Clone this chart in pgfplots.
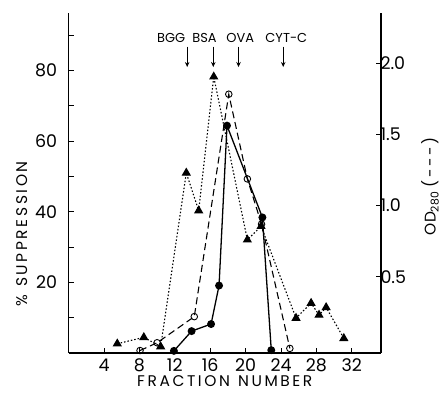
\documentclass[border=0pt]{standalone}
\usepackage{fontspec}
\setmainfont{Poppins}
\usepackage{pgfplots}
\pgfplotsset{compat=1.18}
\usetikzlibrary{arrows.meta}
\begin{document}
\begin{tikzpicture}
\useasboundingbox (-68.6bp,-40bp) rectangle (375.4bp,353bp);
\pgfplotsset{
  common/.style={
    scale only axis, width=312.4bp, height=340bp,
    xmin=0, xmax=35.3,
    tick align=inside, major tick length=5bp,
    tick style={black, line width=0.8pt},
    axis line style={line width=1.1pt},
    /pgf/number format/assume math mode=true,
    tick label style={font=\fontsize{17.5}{17.5}\selectfont},
    label style={font=\fontsize{15.5}{15.5}\selectfont},
  }
}
\begin{axis}[common,
  axis x line*=bottom, axis y line*=left,
  ymin=0, ymax=96.3,
  xtick={4,8,...,32},
  ytick={10,20,...,90},
  yticklabels={,20,,40,,60,,80,},
  xticklabel style={yshift=-2bp},
  yticklabel style={xshift=-8bp},
  xlabel={F\,R\,A\,C\,T\,I\,O\,N\ \ N\,U\,M\,B\,E\,R},
  ylabel={\%\ \ S\,U\,P\,P\,R\,E\,S\,S\,I\,O\,N},
  xlabel style={at={(axis description cs:0.5,-0.084)},anchor=center,inner sep=0pt},
  ylabel style={at={(axis description cs:-0.150,0.35)},anchor=center},
  clip=false,
]
% filled circles, solid
\addplot[black, line width=1.3pt, mark=*, mark size=3.3pt] coordinates {
 (11.9,0.6) (13.9,6.2) (16.1,8.2) (17.0,19.1) (17.9,64.4) (21.9,38.4) (22.9,0.8)
};
% open circles, dashed
\addplot[black, line width=1.1pt, dash pattern=on 7pt off 4pt, mark=o, mark size=3.3pt, mark options={solid, fill=white, line width=0.9pt}] coordinates {
 (8.07,0.7) (10.0,2.9) (14.2,10.3) (18.1,73.3) (20.2,49.3) (21.8,36.5) (25.0,1.3)
};
% arrows and labels
\foreach \xx/\lab/\lx in {13.4/BGG/11.6, 16.35/BSA/15.35, 19.2/OVA/19.4, 24.25/CYT-C/24.6}{
  \edef\tmp{\noexpand\draw[line width=1pt,-{Stealth[length=5bp,width=4.5bp]}] (axis cs:\xx,86.8) -- (axis cs:\xx,81.0);
  \noexpand\node[font=\noexpand\fontsize{13}{13}\noexpand\selectfont] at (axis cs:\lx,89.2) {\lab};}
  \tmp
}
\end{axis}
\begin{axis}[common,
  axis x line=none, axis y line*=right,
  ymin=-0.035, ymax=2.353,
  ytick={0.5,1.0,1.5,2.0},
  /pgf/number format/fixed, /pgf/number format/fixed zerofill, /pgf/number format/precision=1,
  yticklabel style={xshift=-4bp},
  ylabel={OD\textsubscript{280} (\,-\,-\,-\,)},
  ylabel style={at={(axis description cs:1.157,0.49)},anchor=center},
  clip=false,
]
\addplot[black, line width=1.1pt, dash pattern=on 1.5pt off 2pt, mark=triangle*, mark size=4.3pt, mark options={solid}] coordinates {
 (5.5,0.03) (8.5,0.075) (10.4,0.01) (13.3,1.23) (14.7,0.965) (16.4,1.905) (20.2,0.76) (21.75,0.855) (25.7,0.21) (27.4,0.315) (28.3,0.232) (29.1,0.285) (31.1,0.068)
};
\end{axis}
\end{tikzpicture}
\end{document}
